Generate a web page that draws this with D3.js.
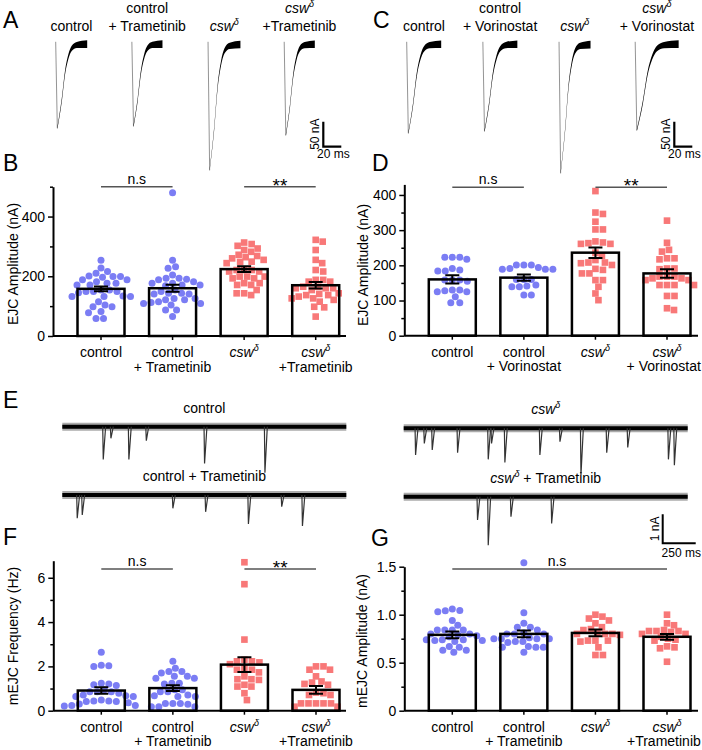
<!DOCTYPE html>
<html>
<head>
<meta charset="utf-8">
<script src="https://cdn.jsdelivr.net/npm/d3@7"></script>
<style>
  body { margin: 0; background: #fff; }
  svg text { font-family: Arial, 'Liberation Sans', sans-serif; fill: #000; }
</style>
</head>
<body>
<div id="figure"></div>
<script>
const groups = ['control', 'control+drug', 'csw', 'csw+drug']

// titles over traces / under bars
const titlesTram = [['control'], ['control', '+ Trametinib'], ['csw'], ['csw', '+Trametinib']]
const titlesVori = [['control'], ['control', '+ Vorinostat'], ['csw'], ['csw', '+ Vorinostat']]

// A, C: evoked EJC traces (peak nA, decay stretch) + shared normalised shape
const ejcPeakTram = [170, 166, 254, 184]
const ejcPeakVori = [180, 176, 260, 174]
const ejcDecayTram = [1, 0.97, 1.03, 0.97]
const ejcDecayVori = [1.1, 1.1, 1, 1.4]
const ejcShapeMs = [0, 1.8, 6.7, 10.3, 14, 17.8, 23.4, 35]
const ejcShapeFrac = [0, 1, 0.67, 0.35, 0.16, 0.06, 0.02, 0.01]

// B: EJC amplitude (nA), Trametinib
const ejcCtrlB = [254, 210, 216, 228, 201, 199, 199, 197, 177, 188, 182, 188, 177, 149, 154, 149, 154, 149, 145, 171, 132, 132, 134, 132, 115, 104, 98, 98, 78, 82, 59, 59, 171]
const ejcCtrlTramB = [480, 254, 232, 227, 188, 193, 193, 190, 204, 171, 168, 177, 171, 182, 177, 143, 154, 149, 141, 143, 126, 121, 126, 121, 109, 104, 109, 112, 115, 87, 87, 65, 141]
const ejcCswB = [313, 308, 302, 293, 288, 282, 272, 268, 264, 244, 248, 255, 260, 249, 221, 221, 216, 216, 221, 199, 199, 193, 199, 193, 177, 171, 177, 171, 143, 154, 143, 137]
const ejcCswTramB = [322, 316, 288, 255, 244, 221, 216, 182, 188, 188, 182, 154, 160, 165, 160, 160, 165, 137, 141, 137, 132, 143, 115, 121, 126, 98, 96, 65, 126]
const ejcMeanB = [158, 160, 224, 170]
const ejcSemB = [8, 12, 10, 11]

// D: EJC amplitude (nA), Vorinostat
const ejcCtrlD = [223, 223, 223, 191, 217, 187, 184, 184, 158, 158, 158, 155, 125, 125, 128, 130, 111, 94, 94, 130]
const ejcCtrlVoriD = [201, 201, 201, 191, 189, 189, 189, 194, 160, 160, 160, 139, 139, 141, 116, 116, 144]
const ejcCswD = [411, 350, 346, 324, 302, 302, 265, 263, 268, 261, 236, 227, 261, 215, 201, 208, 206, 208, 187, 177, 177, 158, 158, 139, 120, 101, 190]
const ejcCswVoriD = [327, 264, 244, 239, 220, 220, 217, 191, 189, 191, 168, 163, 168, 163, 168, 144, 144, 144, 144, 113, 113, 158, 73, 78, 158]
const ejcMeanD = [160, 165, 236, 177]
const ejcSemD = [12, 9, 15, 12]

// E: miniature events (time ms, amplitude nA)
const miniCtrlT = [306, 364, 500, 632, 1073, 1530]
const miniCtrlA = [1.13, 0.4, 1.13, 0.48, 1.27, 1.59]
const miniCtrlTramT = [109, 147, 833, 1081, 1405, 1657, 1814]
const miniCtrlTramA = [0.8, 0.69, 0.46, 0.58, 1.0, 0.4, 1.07]
const miniCswT = [86, 152, 212, 404, 636, 661, 762, 1027, 1179, 1338, 1533, 1692, 2000, 2045]
const miniCswA = [0.92, 0.52, 0.75, 0.84, 1.07, 0.52, 1.18, 0.92, 0.46, 1.61, 0.84, 0.66, 1.07, 1.27]
const miniCswTramT = [555, 636, 808, 1116]
const miniCswTramA = [0.8, 1.67, 0.69, 0.92]

// F: mEJC frequency (Hz)
const freqCtrl = [2.64, 2.0, 2.03, 2.05, 1.17, 1.14, 1.24, 1.21, 0.94, 0.79, 0.86, 0.86, 0.86, 0.67, 0.71, 0.64, 0.64, 0.41, 0.44, 0.48, 0.44, 0.41, 0.36, 0.21, 0.23, 0.23, 0.3]
const freqCtrlTram = [2.23, 1.77, 1.7, 1.92, 1.77, 1.55, 1.47, 1.55, 1.47, 1.21, 1.24, 1.24, 0.94, 0.94, 0.86, 0.86, 0.71, 0.67, 0.64, 0.64, 0.33, 0.29, 0.33, 0.33, 0.18, 0.18, 0.18]
const freqCsw = [6.7, 5.71, 3.21, 2.23, 2.1, 2.18, 2.3, 2.23, 1.85, 1.73, 1.85, 1.92, 1.55, 1.39, 1.42, 1.17, 1.09, 1.09, 0.79, 0.48, 1.42]
const freqCswTram = [1.85, 2.0, 1.85, 2.0, 1.21, 1.27, 1.55, 1.32, 1.17, 0.71, 0.71, 0.79, 0.82, 0.33, 0.33, 0.33, 0.33, 0.33, 0.18, 0.18]
const freqMean = [0.91, 1.02, 2.08, 0.94]
const freqSem = [0.15, 0.13, 0.33, 0.17]

// G: mEJC amplitude (nA)
const ampCtrl = [1.06, 1.045, 1.04, 1.03, 0.94, 0.89, 0.84, 0.84, 0.84, 0.84, 0.79, 0.77, 0.78, 0.8, 0.8, 0.73, 0.74, 0.74, 0.72, 0.73, 0.63, 0.67, 0.66, 0.61, 0.63, 0.74]
const ampCtrlTram = [1.54, 1.02, 0.91, 0.87, 0.87, 0.84, 0.8, 0.8, 0.8, 0.81, 0.75, 0.76, 0.75, 0.75, 0.75, 0.72, 0.72, 0.71, 0.67, 0.66, 0.66, 0.66, 0.61]
const ampCsw = [1.0, 0.98, 0.96, 0.94, 0.91, 0.85, 0.84, 0.87, 0.8, 0.8, 0.8, 0.81, 0.79, 0.73, 0.73, 0.72, 0.66, 0.58, 0.58, 0.73]
const ampCswTram = [1.0, 0.91, 0.89, 0.84, 0.83, 0.82, 0.83, 0.83, 0.8, 0.8, 0.77, 0.73, 0.74, 0.75, 0.66, 0.67, 0.65, 0.51]
const ampMean = [0.79, 0.8, 0.81, 0.77]
const ampSem = [0.035, 0.035, 0.035, 0.03]

const blue = '#7b7df4'
const red = '#f87878'

const svg = d3
  .select('#figure')
  .append('svg')
  .attr('width', 702)
  .attr('height', 750)

function addLabel(g, x, y, txt, size) {
  const t = g
    .append('text')
    .attr('x', x)
    .attr('y', y)
    .attr('text-anchor', 'middle')
    .style('font-size', (size || 14) + 'px')
  if (txt.startsWith('csw')) {
    t.append('tspan').style('font-style', 'italic').text('csw')
    t.append('tspan')
      .attr('dy', -6)
      .style('font-size', '9px')
      .style('font-style', 'italic')
      .text('δ')
    const rest = txt.slice(3)
    if (rest) t.append('tspan').attr('dy', 6).text(rest)
  } else {
    t.text(txt)
  }
  // keep inside the picture
  const bb = t.node().getBBox()
  if (bb.x + bb.width > 701) t.attr('x', x - (bb.x + bb.width - 701))
  return t
}

function panelLetter(x, y, letter) {
  svg
    .append('text')
    .attr('x', x)
    .attr('y', y)
    .style('font-size', '23px')
    .text(letter)
}

/* A / C: EJC traces */
function ejcTraces(originX, baseY, peaks, decay, titles) {
  const g = svg.append('g')
  const start = d3.scalePoint().domain(groups).range([originX, originX + 228.5])
  const tx = d3.scaleLinear().domain([0, 20]).range([0, 18])
  const iy = d3.scaleLinear().domain([0, -50]).range([baseY, baseY + 25])
  const tEnd = ejcShapeMs[ejcShapeMs.length - 1]

  groups.forEach((grp, i) => {
    const x0 = start(grp)
    const stretch = t => (t <= 1.8 ? t : 1.8 + (t - 1.8) * decay[i])
    const pts = ejcShapeMs.map((t, k) => ({
      x: x0 + tx(stretch(t)),
      y: iy(-peaks[i] * ejcShapeFrac[k]),
      f: t / tEnd
    }))

    // stimulus / falling phase
    g.append('path')
      .attr('d', d3.line().x(d => d.x).y(d => d.y)([{ x: x0, y: baseY - 1.5 }, pts[1]]))
      .attr('stroke', '#888')
      .attr('stroke-width', 0.9)
      .attr('fill', 'none')

    // recovery, thickening where the overlaid sweeps spread
    const hw = d => 0.5 + 3.3 * Math.pow(d.f, 0.6)
    const area = d3
      .area()
      .curve(d3.curveMonotoneX)
      .x(d => d.x)
      .y0(d => d.y - hw(d))
      .y1(d => d.y + hw(d))
    g.append('path')
      .attr('d', area(pts.slice(1)))
      .attr('fill', '#000')

    const mid = x0 + tx(stretch(tEnd)) / 2
    const t = titles[i]
    if (t.length === 2) {
      addLabel(g, mid, 13, t[0])
      addLabel(g, mid, 31, t[1])
    } else {
      addLabel(g, mid, 31, t[0])
    }
  })

  // scale bar 50 nA / 20 ms
  const sx = originX + 267.6
  const sy = baseY + 103.4
  const barH = iy(-50) - iy(0)
  g.append('path')
    .attr('d', `M${sx},${sy - barH}V${sy}H${sx + tx(20)}`)
    .attr('fill', 'none')
    .attr('stroke', '#000')
    .attr('stroke-width', 2.2)
  g.append('text')
    .attr('transform', `translate(${sx - 4},${sy - barH / 2}) rotate(-90)`)
    .attr('text-anchor', 'middle')
    .style('font-size', '12px')
    .text('50 nA')
  g.append('text')
    .attr('x', sx + 10)
    .attr('y', sy + 11.5)
    .attr('text-anchor', 'middle')
    .style('font-size', '12px')
    .text('20 ms')
}

/* E: miniature recordings */
function miniTrace(x0, baseY, times, amps, label) {
  const g = svg.append('g')
  const tx = d3.scaleLinear().domain([0, 2150]).range([x0, x0 + 284])
  const iy = d3.scaleLinear().domain([0, -1]).range([baseY, baseY + 29])
  g.append('line')
    .attr('x1', tx(0))
    .attr('x2', tx(2150))
    .attr('y1', baseY)
    .attr('y2', baseY)
    .attr('stroke', '#444')
    .attr('stroke-width', 8)
    .attr('stroke-opacity', 0.45)
  g.append('line')
    .attr('x1', tx(0))
    .attr('x2', tx(2150))
    .attr('y1', baseY)
    .attr('y2', baseY)
    .attr('stroke', '#000')
    .attr('stroke-width', 4)
  const ev = d3.line().x(d => d[0]).y(d => d[1])
  times.forEach((t, i) => {
    g.append('path')
      .attr('d', ev([[tx(t), baseY], [tx(t + 4), iy(-amps[i])], [tx(t + 22), baseY]]))
      .attr('fill', 'none')
      .attr('stroke', '#333')
      .attr('stroke-width', 1.2)
  })
  addLabel(g, tx(1075), baseY - 14, label)
  return { tx, iy }
}

/* B, D, F, G: bar + scatter panels */
function swarm(values, y, minD) {
  const pts = values
    .map(v => ({ v, py: y(v), dx: 0 }))
    .sort((a, b) => a.py - b.py)
  const placed = []
  pts.forEach(p => {
    const near = placed.filter(q => Math.abs(q.py - p.py) < minD)
    let dx = 0
    for (let k = 0; k < 400; k++) {
      dx = (k % 2 ? 1 : -1) * Math.ceil(k / 2) * 0.5
      if (near.every(q => Math.hypot(q.dx - dx, q.py - p.py) >= minD)) break
    }
    p.dx = dx
    placed.push(p)
  })
  return pts
}

function barPanel(o) {
  const g = svg.append('g')
  const y = d3.scaleLinear().domain([0, o.yMax]).range([o.bottom, o.top])
  const x = d3.scalePoint().domain(groups).range([o.left + 48, o.left + 262.7])
  const bw = 47

  // white bars
  g.selectAll('.bar-fill')
    .data(o.means)
    .enter()
    .append('rect')
    .attr('x', (d, i) => x(groups[i]) - bw / 2)
    .attr('y', d => y(d))
    .attr('width', bw)
    .attr('height', d => o.bottom - y(d))
    .attr('fill', '#fff')

  // points
  o.series.forEach((vals, i) => {
    const cx = x(groups[i])
    const pts = swarm(vals, y, 7.2)
    if (i < 2) {
      g.selectAll(null)
        .data(pts)
        .enter()
        .append('circle')
        .attr('cx', d => cx + d.dx)
        .attr('cy', d => d.py)
        .attr('r', 3.5)
        .attr('fill', blue)
    } else {
      g.selectAll(null)
        .data(pts)
        .enter()
        .append('path')
        .attr('d', d3.symbol(d3.symbolSquare, 44))
        .attr('transform', d => `translate(${cx + d.dx},${d.py})`)
        .attr('fill', red)
    }
  })

  // bar outlines
  g.selectAll('.bar')
    .data(o.means)
    .enter()
    .append('rect')
    .attr('x', (d, i) => x(groups[i]) - bw / 2)
    .attr('y', d => y(d))
    .attr('width', bw)
    .attr('height', d => o.bottom - y(d))
    .attr('fill', 'none')
    .attr('stroke', '#000')
    .attr('stroke-width', 2.5)

  // error bars (mean ± SEM)
  o.means.forEach((m, i) => {
    const cx = x(groups[i])
    const lo = y(m - o.sems[i])
    const hi = y(m + o.sems[i])
    g.append('path')
      .attr('d', `M${cx},${lo}V${hi}M${cx - 7},${hi}H${cx + 7}M${cx - 7},${lo}H${cx + 7}`)
      .attr('stroke', '#000')
      .attr('stroke-width', 2)
      .attr('fill', 'none')
  })

  // y axis
  const yAxis = g
    .append('g')
    .attr('transform', `translate(${o.left},0)`)
    .call(
      d3.axisLeft(y)
        .tickValues(o.major)
        .tickFormat(o.fmt)
        .tickSize(5)
        .tickSizeOuter(0)
        .tickPadding(3)
    )
  yAxis.select('.domain').attr('stroke-width', 2)
  yAxis.selectAll('.tick line').attr('stroke-width', 1.5)
  yAxis.selectAll('.tick text').style('font-size', '14px').attr('font-family', null)
  g.append('g')
    .attr('transform', `translate(${o.left},0)`)
    .call(d3.axisLeft(y).tickValues(o.minor).tickFormat('').tickSize(3).tickSizeOuter(0))
    .call(s => s.select('.domain').remove())
    .selectAll('.tick line')
    .attr('stroke-width', 1.5)

  // x axis
  g.append('line')
    .attr('x1', o.left)
    .attr('x2', o.right)
    .attr('y1', o.bottom)
    .attr('y2', o.bottom)
    .attr('stroke', '#000')
    .attr('stroke-width', 2)
  groups.forEach((grp, i) => {
    g.append('line')
      .attr('x1', x(grp))
      .attr('x2', x(grp))
      .attr('y1', o.bottom)
      .attr('y2', o.bottom + 4)
      .attr('stroke', '#000')
      .attr('stroke-width', 1.5)
    o.titles[i].forEach((t, k) => addLabel(g, x(grp), o.bottom + 21 + k * 14.5, t))
  })

  // y label
  g.append('text')
    .attr('transform', `translate(${o.labelX},${o.labelY}) rotate(-90)`)
    .attr('text-anchor', 'middle')
    .style('font-size', '14px')
    .text(o.yLabel)

  // significance
  o.sig.forEach(s => {
    const x1 = x(groups[s.from])
    const x2 = x(groups[s.to])
    const ly = y(s.at)
    const stars = s.text === '**'
    g.append('line')
      .attr('x1', x1)
      .attr('x2', x2)
      .attr('y1', ly)
      .attr('y2', ly)
      .attr('stroke', '#555')
      .attr('stroke-width', 1.5)
    g.append('text')
      .attr('x', s.tx != null ? s.tx : (x1 + x2) / 2)
      .attr('y', stars ? ly + 5 : ly - 3)
      .attr('text-anchor', 'middle')
      .style('font-size', stars ? '19px' : '14px')
      .text(s.text)
  })
}

// ---- draw ----
panelLetter(3, 28, 'A')
panelLetter(373, 28, 'C')
panelLetter(3, 171, 'B')
panelLetter(372, 171, 'D')
panelLetter(3, 408, 'E')
panelLetter(3, 545, 'F')
panelLetter(371, 546, 'G')

ejcTraces(55.7, 43.3, ejcPeakTram, ejcDecayTram, titlesTram)
ejcTraces(406.7, 43.3, ejcPeakVori, ejcDecayVori, titlesVori)

barPanel({
  left: 53, right: 346, bottom: 336, top: 186.7, yMax: 500,
  major: [0, 200, 400], minor: [100, 300, 500], fmt: d3.format('d'),
  series: [ejcCtrlB, ejcCtrlTramB, ejcCswB, ejcCswTramB],
  means: ejcMeanB, sems: ejcSemB, titles: titlesTram,
  yLabel: 'EJC Amplitude (nA)', labelX: 18, labelY: 264,
  sig: [{ from: 0, to: 1, at: 500, text: 'n.s' }, { from: 2, to: 3, at: 500, text: '**' }]
})

barPanel({
  left: 404.3, right: 698, bottom: 335.7, top: 184.4, yMax: 430,
  major: [0, 100, 200, 300, 400], minor: [50, 150, 250, 350], fmt: d3.format('d'),
  series: [ejcCtrlD, ejcCtrlVoriD, ejcCswD, ejcCswVoriD],
  means: ejcMeanD, sems: ejcSemD, titles: titlesVori,
  yLabel: 'EJC Amplitude (nA)', labelX: 368, labelY: 265,
  sig: [{ from: 0, to: 1, at: 422, text: 'n.s' }, { from: 2, to: 3, at: 422, text: '**' }]
})

miniTrace(62.3, 426.7, miniCtrlT, miniCtrlA, 'control')
miniTrace(62.3, 495, miniCtrlTramT, miniCtrlTramA, 'control + Trametinib')
miniTrace(403.7, 428.3, miniCswT, miniCswA, 'csw')
const right2 = miniTrace(403.7, 496.7, miniCswTramT, miniCswTramA, 'csw + Trametinib')

// E scale bar: 1 nA / 250 ms
{
  const sx = 662.7
  const sy = 543.3
  const h = right2.iy(-1) - right2.iy(0)
  const w = right2.tx(250) - right2.tx(0)
  svg.append('path')
    .attr('d', `M${sx},${sy - h}V${sy}H${sx + w}`)
    .attr('fill', 'none')
    .attr('stroke', '#000')
    .attr('stroke-width', 2)
  svg.append('text')
    .attr('transform', `translate(${sx - 4},${sy - h / 2}) rotate(-90)`)
    .attr('text-anchor', 'middle')
    .style('font-size', '12px')
    .text('1 nA')
  svg.append('text')
    .attr('x', sx + w / 2 + 2)
    .attr('y', sy + 14)
    .attr('text-anchor', 'middle')
    .style('font-size', '12px')
    .text('250 ms')
}

barPanel({
  left: 53.3, right: 346, bottom: 710.7, top: 560.7, yMax: 6.77,
  major: [0, 2, 4, 6], minor: [1, 3, 5], fmt: d3.format('d'),
  series: [freqCtrl, freqCtrlTram, freqCsw, freqCswTram],
  means: freqMean, sems: freqSem, titles: titlesTram,
  yLabel: 'mEJC Frequency (Hz)', labelX: 18, labelY: 636,
  sig: [{ from: 0, to: 1, at: 6.4, text: 'n.s' }, { from: 2, to: 3, at: 6.4, text: '**' }]
})

barPanel({
  left: 404.3, right: 698, bottom: 710.7, top: 566.7, yMax: 1.5,
  major: [0, 0.5, 1, 1.5], minor: [0.25, 0.75, 1.25],
  fmt: d => (d === 0 ? '0' : d3.format('.1f')(d)),
  series: [ampCtrl, ampCtrlTram, ampCsw, ampCswTram],
  means: ampMean, sems: ampSem, titles: titlesTram,
  yLabel: 'mEJC Amplitude (nA)', labelX: 367, labelY: 641,
  sig: [{ from: 0, to: 3, at: 1.475, text: 'n.s', tx: 557 }]
})
</script>
</body>
</html>
